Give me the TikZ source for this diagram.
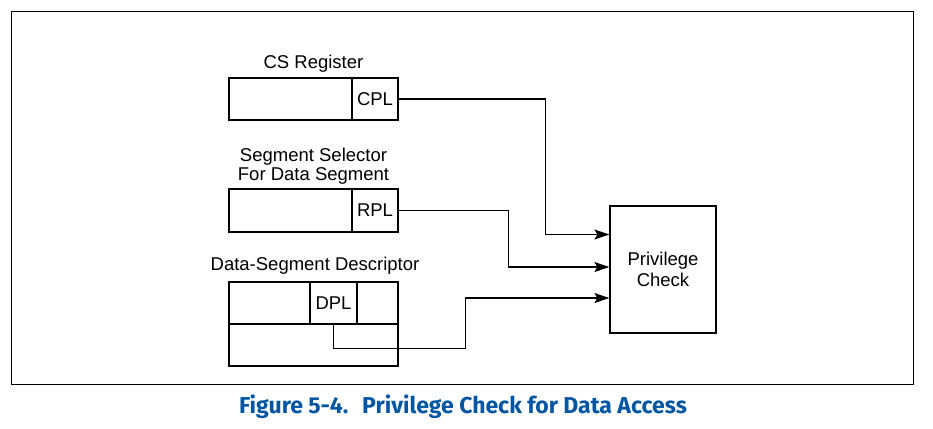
\documentclass[tikz,border=0pt]{standalone}
\usepackage{fontspec}
\setmainfont{Liberation Sans}
\newfontfamily\capfont{Fira Sans}
\usetikzlibrary{arrows.meta,positioning}
\definecolor{figblue}{RGB}{0,86,163}

\begin{document}
\begin{tikzpicture}[x=1pt,y=-1pt,
  field/.style={draw,line width=1.2pt,inner sep=0pt,font=\fontsize{18.5}{21}\selectfont},
  lbl/.style={align=center,font=\fontsize{18.5}{19.5}\selectfont,inner sep=0pt},
  link/.style={line width=1.2pt,-{Stealth[length=15pt,width=10pt,inset=3pt]}}]
\useasboundingbox (0,0) rectangle (933,428);
\draw[line width=1pt] (11,12) rectangle (913,384);

% CS register
\node[lbl] (cslbl) at (313.5,64) {CS Register};
\node[field,minimum width=123pt,minimum height=42pt] (csbody) at (290.5,99) {};
\node[field,minimum width=46pt,minimum height=42pt] (cpl) at (375,99) {CPL};

% segment selector
\node[lbl] (sellbl) at (313.5,166) {Segment Selector\\For Data Segment};
\node[field,minimum width=123pt,minimum height=43pt] (selbody) at (290.5,210.5) {};
\node[field,minimum width=46pt,minimum height=43pt] (rpl) at (375,210.5) {RPL};

% data-segment descriptor
\node[lbl] (desclbl) at (315,266) {Data-Segment Descriptor};
\node[field,minimum width=81pt,minimum height=42pt] (descleft) at (269.5,303) {};
\node[field,minimum width=47pt,minimum height=42pt] (dpl) at (333.5,303) {DPL};
\node[field,minimum width=41pt,minimum height=42pt] (descright) at (377.5,303) {};
\node[field,minimum width=169pt,minimum height=42pt] (desclow) at (313.5,345) {};

% privilege check
\node[field,minimum width=106pt,minimum height=127pt,align=center] (priv) at (663,269.5) {Privilege\\Check};

\draw[link] (cpl.east) -- ++(147,0) |- ([yshift=35pt]priv.west);
\draw[link] (rpl.east) -- ++(110,0) |- ([yshift=2.5pt]priv.west);
\draw[link] (dpl.south) -- ++(0,24) -- ++(132,0) |- ([yshift=-28.5pt]priv.west);

\node[font=\capfont\bfseries\fontsize{23}{26}\selectfont,text=figblue] (caption) at (463,407)
  {Figure 5-4.\hspace{0.6em}Privilege Check for Data Access};
\end{tikzpicture}
\end{document}
